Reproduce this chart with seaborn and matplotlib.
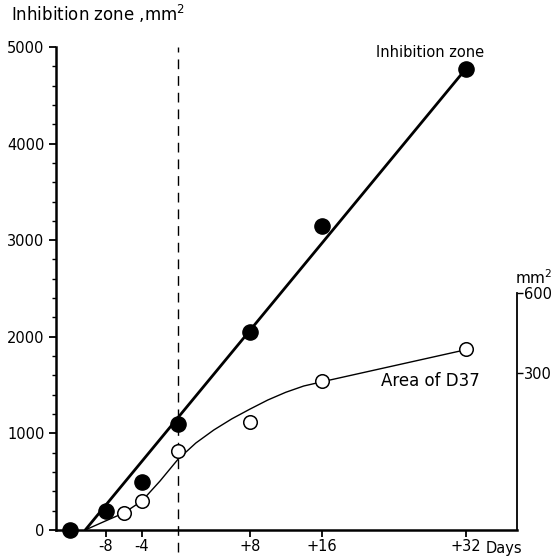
import numpy as np
import pandas as pd
import matplotlib
matplotlib.use("Agg")
import matplotlib.pyplot as plt
import seaborn as sns

# dados
days_zone = [-12, -8, -4, 0, 8, 16, 32]
zone = [0, 200, 500, 1100, 2050, 3150, 4770]

days_d37 = [-6, -4, 0, 8, 16, 32]
d37 = [176, 300, 814, 1114, 1538, 1876]

# recta ajustada (zona de inibição)
fit_days = [-10.3, 32]
fit_zone = [0, 4770]

# curva desenhada à mão (área de D37)
curve_days = [-10.3, -8, -6, -4, -2, 0, 2, 4, 6, 8, 10, 12, 14, 16, 32]
curve_d37 = [0, 95, 176, 300, 505, 730, 900, 1035, 1150, 1250, 1345,
             1425, 1490, 1533, 1865]

xticks = [-8, -4, 8, 16, 32]
xtick_labels = ["-8", "-4", "+8", "+16", "+32"]
yticks = [0, 1000, 2000, 3000, 4000, 5000]
right_ticks = [300, 600]

sns.set_style("ticks")
plt.rcParams["font.family"] = ["DejaVu Sans"]
plt.rcParams["mathtext.fontset"] = "dejavusans"
plt.rcParams["text.color"] = "black"
plt.rcParams["xtick.color"] = "black"
plt.rcParams["ytick.color"] = "black"

fig = plt.figure(figsize=(5.59, 5.59), dpi=100)
ax = fig.add_axes([0.0995, 0.052, 0.825, 0.864])

df_zone = pd.DataFrame({"day": days_zone, "zone": zone})
df_d37 = pd.DataFrame({"day": days_d37, "area": d37})
df_fit = pd.DataFrame({"day": fit_days, "zone": fit_zone})
df_curve = pd.DataFrame({"day": curve_days, "area": curve_d37})

# linha de referência no dia 0
ax.axvline(0, ymin=-0.045, ymax=1.0, color="black", lw=1.0,
           ls=(0, (7, 5)), clip_on=False, zorder=1)

sns.lineplot(data=df_fit, x="day", y="zone", ax=ax, color="black",
             lw=2.0, sort=False, zorder=2)
sns.lineplot(data=df_curve, x="day", y="area", ax=ax, color="black",
             lw=1.0, sort=False, zorder=2)

ax.scatter(df_zone["day"], df_zone["zone"], s=120, color="black",
           zorder=4, clip_on=False)
ax.scatter(df_d37["day"], df_d37["area"], s=95, facecolor="white",
           edgecolor="black", lw=1.1, zorder=4, clip_on=False)

ax.set_xlim(-13.6, 37.7)
ax.set_ylim(0, 5000)
ax.set_xlabel("")
ax.set_ylabel("")

ax.set_xticks(xticks)
ax.set_xticklabels(xtick_labels)
ax.set_yticks(yticks)
ax.set_yticks(np.arange(0, 5001, 200), minor=True)
ax.tick_params(axis="both", which="major", direction="out", length=5,
               width=1.3, labelsize=10.5, pad=3)
ax.tick_params(axis="x", which="major", pad=1.5)
ax.tick_params(axis="y", which="minor", direction="out", length=3,
               width=1.0)

for side in ["top", "right"]:
    ax.spines[side].set_visible(False)
for side in ["left", "bottom"]:
    ax.spines[side].set_linewidth(1.8)
    ax.spines[side].set_color("black")

# eixo da direita (mm2, área de D37)
ax2 = ax.twinx()
ax2.set_ylim(-289, 1525)
ax2.set_yticks(right_ticks)
ax2.set_yticklabels([str(t) for t in right_ticks])
ax2.spines["right"].set_bounds(-289, 600)
ax2.spines["right"].set_linewidth(1.3)
ax2.spines["right"].set_color("black")
for side in ["top", "left", "bottom"]:
    ax2.spines[side].set_visible(False)
ax2.tick_params(axis="y", direction="out", length=4, width=1.0,
                labelsize=10.5, pad=1)

# textos
fig.text(0.02, 0.962, "Inhibition zone ,mm$^2$", fontsize=12,
         ha="left", va="baseline")
fig.text(0.921, 0.492, "mm$^2$", fontsize=11, ha="left", va="baseline")
ax.text(34.1, 4943, "Inhibition zone", fontsize=10.5, ha="right",
        va="center")
ax.text(22.6, 1540, "Area of D37", fontsize=12, ha="left", va="center")
ax.annotate("Days", xy=(34.2, 0), xycoords=("data", "axes fraction"),
            xytext=(0, -8), textcoords="offset points",
            ha="left", va="top", fontsize=10.5)

fig.savefig("out.png", dpi=100)
